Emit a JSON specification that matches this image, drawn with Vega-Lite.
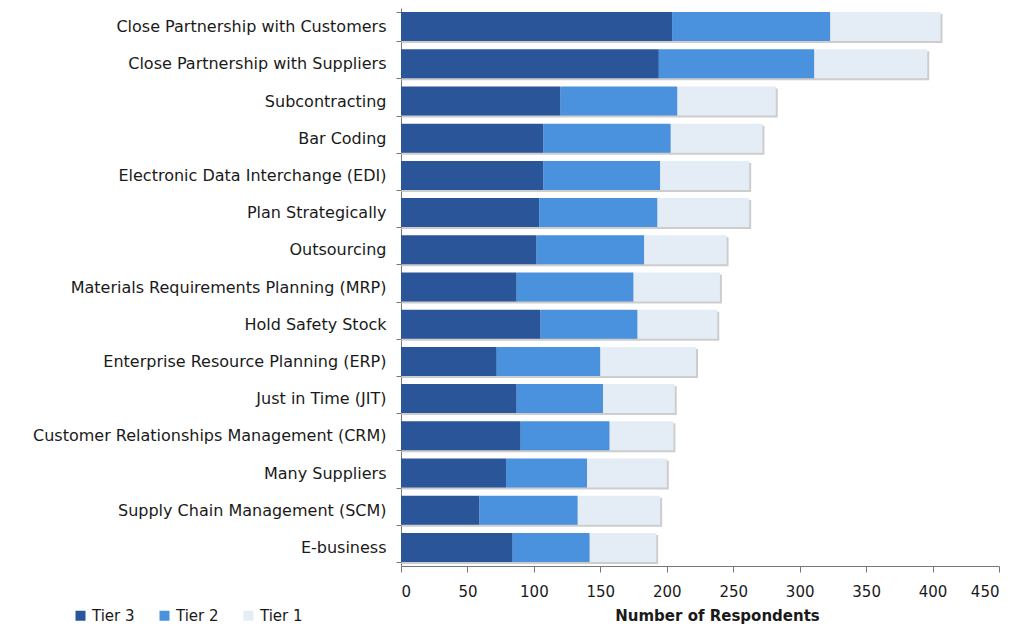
{
  "$schema": "https://vega.github.io/schema/vega-lite/v6.json",
  "width": 598,
  "height": 558,
  "autosize": "none",
  "padding": {"left": 401, "top": 8, "right": 20, "bottom": 63},
  "background": "white",
  "config": {"view": {"stroke": null}, "font": "DejaVu Sans"},
  "data": {"values": [
    {"item": "Close Partnership with Customers", "tier": "Tier 3", "n": 204},
    {"item": "Close Partnership with Customers", "tier": "Tier 2", "n": 119},
    {"item": "Close Partnership with Customers", "tier": "Tier 1", "n": 83},
    {"item": "Close Partnership with Suppliers", "tier": "Tier 3", "n": 194},
    {"item": "Close Partnership with Suppliers", "tier": "Tier 2", "n": 117},
    {"item": "Close Partnership with Suppliers", "tier": "Tier 1", "n": 85},
    {"item": "Subcontracting", "tier": "Tier 3", "n": 120},
    {"item": "Subcontracting", "tier": "Tier 2", "n": 88},
    {"item": "Subcontracting", "tier": "Tier 1", "n": 74},
    {"item": "Bar Coding", "tier": "Tier 3", "n": 107},
    {"item": "Bar Coding", "tier": "Tier 2", "n": 96},
    {"item": "Bar Coding", "tier": "Tier 1", "n": 69},
    {"item": "Electronic Data Interchange (EDI)", "tier": "Tier 3", "n": 107},
    {"item": "Electronic Data Interchange (EDI)", "tier": "Tier 2", "n": 88},
    {"item": "Electronic Data Interchange (EDI)", "tier": "Tier 1", "n": 67},
    {"item": "Plan Strategically", "tier": "Tier 3", "n": 104},
    {"item": "Plan Strategically", "tier": "Tier 2", "n": 89},
    {"item": "Plan Strategically", "tier": "Tier 1", "n": 69},
    {"item": "Outsourcing", "tier": "Tier 3", "n": 102},
    {"item": "Outsourcing", "tier": "Tier 2", "n": 81},
    {"item": "Outsourcing", "tier": "Tier 1", "n": 62},
    {"item": "Materials Requirements Planning (MRP)", "tier": "Tier 3", "n": 87},
    {"item": "Materials Requirements Planning (MRP)", "tier": "Tier 2", "n": 88},
    {"item": "Materials Requirements Planning (MRP)", "tier": "Tier 1", "n": 65},
    {"item": "Hold Safety Stock", "tier": "Tier 3", "n": 105},
    {"item": "Hold Safety Stock", "tier": "Tier 2", "n": 73},
    {"item": "Hold Safety Stock", "tier": "Tier 1", "n": 60},
    {"item": "Enterprise Resource Planning (ERP)", "tier": "Tier 3", "n": 72},
    {"item": "Enterprise Resource Planning (ERP)", "tier": "Tier 2", "n": 78},
    {"item": "Enterprise Resource Planning (ERP)", "tier": "Tier 1", "n": 72},
    {"item": "Just in Time (JIT)", "tier": "Tier 3", "n": 87},
    {"item": "Just in Time (JIT)", "tier": "Tier 2", "n": 65},
    {"item": "Just in Time (JIT)", "tier": "Tier 1", "n": 54},
    {"item": "Customer Relationships Management (CRM)", "tier": "Tier 3", "n": 90},
    {"item": "Customer Relationships Management (CRM)", "tier": "Tier 2", "n": 67},
    {"item": "Customer Relationships Management (CRM)", "tier": "Tier 1", "n": 48},
    {"item": "Many Suppliers", "tier": "Tier 3", "n": 79},
    {"item": "Many Suppliers", "tier": "Tier 2", "n": 61},
    {"item": "Many Suppliers", "tier": "Tier 1", "n": 60},
    {"item": "Supply Chain Management (SCM)", "tier": "Tier 3", "n": 59},
    {"item": "Supply Chain Management (SCM)", "tier": "Tier 2", "n": 74},
    {"item": "Supply Chain Management (SCM)", "tier": "Tier 1", "n": 62},
    {"item": "E-business", "tier": "Tier 3", "n": 84},
    {"item": "E-business", "tier": "Tier 2", "n": 58},
    {"item": "E-business", "tier": "Tier 1", "n": 50}
  ]},
  "encoding": {
    "y": {
      "field": "item", "type": "nominal", "sort": null,
      "scale": {"paddingInner": 0.22, "paddingOuter": 0.11},
      "axis": {
        "title": null, "tickBand": "extent", "tickSize": 5, "labelPadding": 10,
        "labelFontSize": 16, "labelColor": "#1a1a1a", "labelLimit": 400,
        "domainColor": "#777", "tickColor": "#777"
      }
    }
  },
  "layer": [
    {
      "mark": {"type": "bar", "color": "#b8b8b8", "opacity": 0.7, "xOffset": 2, "yOffset": 2},
      "encoding": {
        "x": {"aggregate": "sum", "field": "n", "type": "quantitative", "scale": {"domain": [0, 450]}}
      }
    },
    {
      "mark": {"type": "bar"},
      "encoding": {
        "x": {
          "field": "n", "type": "quantitative", "stack": "zero",
          "scale": {"domain": [0, 450]},
          "axis": {
            "title": "Number of Respondents", "values": [0, 50, 100, 150, 200, 250, 300, 350, 400, 450],
            "grid": false, "tickSize": 6, "labelPadding": 12,
            "labelFontSize": 15, "labelColor": "#1a1a1a", "titleFontSize": 15, "titleFontWeight": "bold",
            "titleColor": "#1a1a1a", "titlePadding": 9, "titleX": 316, "titleAlign": "center",
            "domainColor": "#777", "tickColor": "#777"
          }
        },
        "color": {
          "field": "tier", "type": "nominal",
          "scale": {"domain": ["Tier 3", "Tier 2", "Tier 1"], "range": ["#2A5699", "#4A91DE", "#E4ECF6"]},
          "legend": {
            "title": null, "orient": "none", "direction": "horizontal",
            "legendX": -328, "legendY": 600, "symbolType": "square", "symbolSize": 100,
            "symbolStrokeWidth": 0, "labelFontSize": 15, "labelColor": "#1a1a1a", "columnPadding": 22
          }
        },
        "order": {"field": "tier", "sort": "descending"}
      }
    }
  ]
}
